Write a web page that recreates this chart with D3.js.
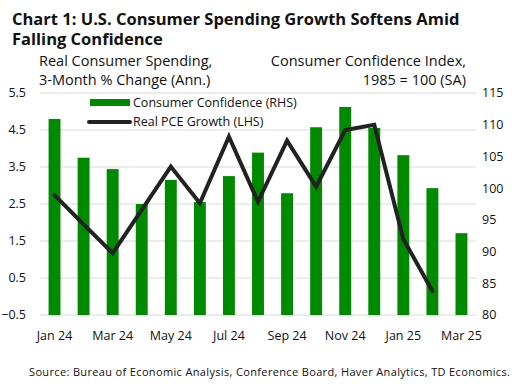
<!DOCTYPE html>
<html>
<head>
<meta charset="utf-8">
<script src="https://cdn.jsdelivr.net/npm/d3@7"></script>
<style>
  body { margin: 0; background: #fff; }
  svg text { font-family: "Open Sans", "DejaVu Sans", sans-serif; fill: #111; }
</style>
</head>
<body>
<div id="chart"></div>
<script>
// data
var months = ['Jan 24','Feb 24','Mar 24','Apr 24','May 24','Jun 24','Jul 24','Aug 24',
              'Sep 24','Oct 24','Nov 24','Dec 24','Jan 25','Feb 25','Mar 25'];
var confidence = [110.9, 104.8, 103.0, 97.5, 101.3, 97.8, 101.9, 105.6,
                  99.2, 109.6, 112.8, 109.5, 105.2, 100.0, 92.9];
var pceGrowth = [2.74, 1.95, 1.17, 2.34, 3.51, 2.52, 4.32, 2.56,
                 4.21, 2.97, 4.5, 4.64, 1.55, 0.15, null];
var leftTicks = [-0.5, 0.5, 1.5, 2.5, 3.5, 4.5, 5.5];
var rightTicks = [80, 85, 90, 95, 100, 105, 110, 115];
var xTickLabels = ['Jan 24','Mar 24','May 24','Jul 24','Sep 24','Nov 24','Jan 25','Mar 25'];

var W = 516, H = 386;
var plot = { left: 40, right: 476, top: 93, bottom: 315 };

var svg = d3.select('#chart').append('svg')
  .attr('width', W)
  .attr('height', H);

// scales
var x = d3.scaleBand()
  .domain(months)
  .range([plot.left, plot.right])
  .paddingInner(0.59)
  .paddingOuter(0.295);

var yL = d3.scaleLinear().domain([-0.5, 5.5]).range([plot.bottom, plot.top]);
var yR = d3.scaleLinear().domain([80, 115]).range([plot.bottom, plot.top]);

// gridlines
svg.append('g')
  .selectAll('line')
  .data(leftTicks)
  .enter().append('line')
  .attr('x1', plot.left)
  .attr('x2', plot.right)
  .attr('y1', function(d){ return yL(d); })
  .attr('y2', function(d){ return yL(d); })
  .attr('stroke', '#d9d9d9')
  .attr('stroke-width', 1);

// left axis labels
svg.append('g')
  .selectAll('text')
  .data(leftTicks)
  .enter().append('text')
  .attr('x', 26)
  .attr('y', function(d){ return yL(d); })
  .attr('dy', '0.35em')
  .attr('text-anchor', 'end')
  .style('font-size', '12.5px')
  .text(function(d){ return d3.format('.1f')(d); });

// right axis labels
svg.append('g')
  .selectAll('text')
  .data(rightTicks)
  .enter().append('text')
  .attr('x', 482)
  .attr('y', function(d){ return yR(d); })
  .attr('dy', '0.35em')
  .attr('text-anchor', 'start')
  .style('font-size', '12.5px')
  .text(function(d){ return d; });

// x labels
svg.append('g')
  .selectAll('text')
  .data(xTickLabels)
  .enter().append('text')
  .attr('x', function(d){ return x(d) + x.bandwidth() / 2; })
  .attr('y', 340)
  .attr('text-anchor', 'middle')
  .style('font-size', '12.5px')
  .text(function(d){ return d; });

// bars
svg.append('g')
  .selectAll('rect')
  .data(confidence)
  .enter().append('rect')
  .attr('x', function(d, i){ return x(months[i]); })
  .attr('width', x.bandwidth())
  .attr('y', function(d){ return yR(d); })
  .attr('height', function(d){ return yR(80) - yR(d); })
  .attr('fill', '#008a00');

// PCE line
var line = d3.line()
  .defined(function(d){ return d != null; })
  .x(function(d, i){ return x(months[i]) + x.bandwidth() / 2; })
  .y(function(d){ return yL(d); });

svg.append('path')
  .datum(pceGrowth)
  .attr('d', line)
  .attr('fill', 'none')
  .attr('stroke', '#222')
  .attr('stroke-width', 4)
  .attr('stroke-linejoin', 'miter')
  .attr('stroke-linecap', 'round');

// legend
svg.append('rect')
  .attr('x', 90).attr('y', 99)
  .attr('width', 40).attr('height', 7)
  .attr('fill', '#008a00');
svg.append('text')
  .attr('x', 133).attr('y', 102.5).attr('dy', '0.35em')
  .style('font-size', '12.5px')
  .text('Consumer Confidence (RHS)');
svg.append('line')
  .attr('x1', 89).attr('x2', 130)
  .attr('y1', 122).attr('y2', 122)
  .attr('stroke', '#222').attr('stroke-width', 4)
  .attr('stroke-linecap', 'round');
svg.append('text')
  .attr('x', 133).attr('y', 122).attr('dy', '0.35em')
  .style('font-size', '12.5px')
  .text('Real PCE Growth (LHS)');

// titles
svg.append('text')
  .attr('x', 12).attr('y', 25)
  .style('font-size', '16.5px').style('font-weight', 'bold')
  .text('Chart 1: U.S. Consumer Spending Growth Softens Amid');
svg.append('text')
  .attr('x', 12).attr('y', 45)
  .style('font-size', '16.5px').style('font-weight', 'bold')
  .text('Falling Confidence');

svg.append('text')
  .attr('x', 39).attr('y', 66)
  .style('font-size', '14.5px')
  .text('Real Consumer Spending,');
svg.append('text')
  .attr('x', 39).attr('y', 85)
  .style('font-size', '14.5px')
  .text('3-Month % Change (Ann.)');
svg.append('text')
  .attr('x', 466).attr('y', 66)
  .attr('text-anchor', 'end')
  .style('font-size', '14.5px')
  .text('Consumer Confidence Index,');
svg.append('text')
  .attr('x', 466).attr('y', 85)
  .attr('text-anchor', 'end')
  .style('font-size', '14.5px')
  .text('1985 = 100 (SA)');

// source
svg.append('text')
  .attr('x', 29).attr('y', 376)
  .style('font-size', '11px')
  .style('letter-spacing', '0.35px')
  .text('Source: Bureau of Economic Analysis, Conference Board, Haver Analytics, TD Economics.');
</script>
</body>
</html>
